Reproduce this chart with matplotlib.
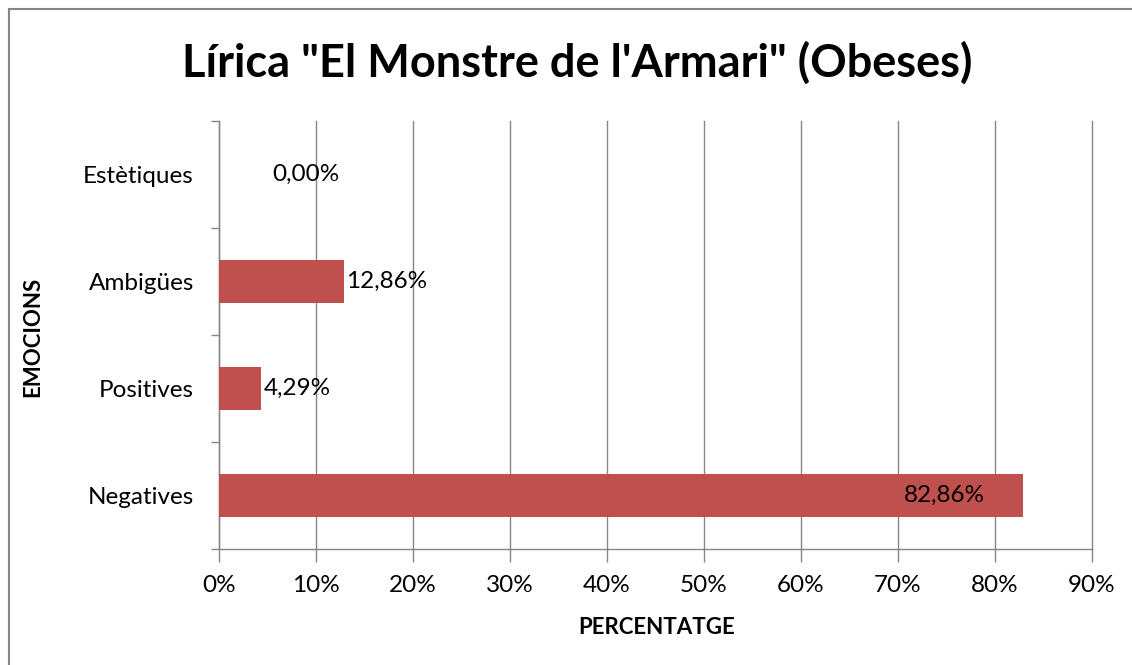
import matplotlib
matplotlib.use("Agg")
import matplotlib.pyplot as plt
from matplotlib.patches import Rectangle
from matplotlib.ticker import MultipleLocator, FuncFormatter

categories = ["Negatives", "Positives", "Ambigües", "Estètiques"]
values = [82.86, 4.29, 12.86, 0.00]
value_labels = ["82,86%", "4,29%", "12,86%", "0,00%"]
title = "Lírica \"El Monstre de l'Armari\" (Obeses)"
xlabel = "PERCENTATGE"
ylabel = "EMOCIONS"

plt.rcParams['font.family'] = ['Lato', 'DejaVu Sans']

W, H = 1132, 665
fig = plt.figure(figsize=(W/100, H/100), dpi=100)
fig.patch.set_facecolor('white')

# outer border
fig.add_artist(Rectangle((9/W, -0.1), 1.2, 1 - 9/H + 0.1, transform=fig.transFigure,
                         fill=False, edgecolor='#868686', linewidth=1.5))

ax = fig.add_axes([219/W, 1 - 549/H, (1092-219)/W, (549-121)/H])
gray = '#868686'
ypos = list(range(len(categories)))
ax.barh(ypos, values, height=0.4, color='#C0504D', zorder=3)
ax.set_xlim(0, 90)
ax.set_ylim(-0.5, 3.5)
ax.xaxis.set_major_locator(MultipleLocator(10))
ax.xaxis.set_major_formatter(FuncFormatter(lambda v, p: f"{int(round(v))}%"))
ax.set_yticks(ypos)
ax.set_yticklabels(categories)
ax.set_yticks([-0.5, 0.5, 1.5, 2.5, 3.5], minor=True)
ax.tick_params(axis='y', which='major', length=0, pad=18, labelsize=17.5)
ax.tick_params(axis='y', which='minor', length=6, color=gray, width=1)
ax.tick_params(axis='x', which='major', length=9, color=gray, width=1, labelsize=17.5, pad=10)
ax.grid(axis='x', color=gray, linewidth=1, zorder=0)
for gl in ax.get_xgridlines():
    gl.set_clip_on(False)
ax.set_axisbelow(True)
for s in ['top', 'right']:
    ax.spines[s].set_visible(False)
for s in ['left', 'bottom']:
    ax.spines[s].set_color(gray)
    ax.spines[s].set_linewidth(1)

for y, v, lab in zip(ypos, values, value_labels):
    if v > 50:
        ax.annotate(lab, (v, y), xytext=(-27, 0), textcoords='offset points',
                    ha='right', va='center', fontsize=17.5, color='black', zorder=4)
    elif v == 0:
        ax.annotate(lab, (v, y), xytext=(38, 0), textcoords='offset points',
                    ha='left', va='center', fontsize=17.5, color='black', zorder=4)
    else:
        ax.annotate(lab, (v, y), xytext=(2, 0), textcoords='offset points',
                    ha='left', va='center', fontsize=17.5, color='black', zorder=4)

fig.text(577/W, 1 - 63/H, title, ha='center', va='center', fontsize=32.5, fontweight='bold')
fig.text(657/W, 1 - 627/H, xlabel, ha='center', va='center', fontsize=16, fontweight='bold')
fig.text(33/W, 1 - 337/H, ylabel, ha='center', va='center', fontsize=16, fontweight='bold', rotation=90)

fig.savefig('out.png', dpi=100)
